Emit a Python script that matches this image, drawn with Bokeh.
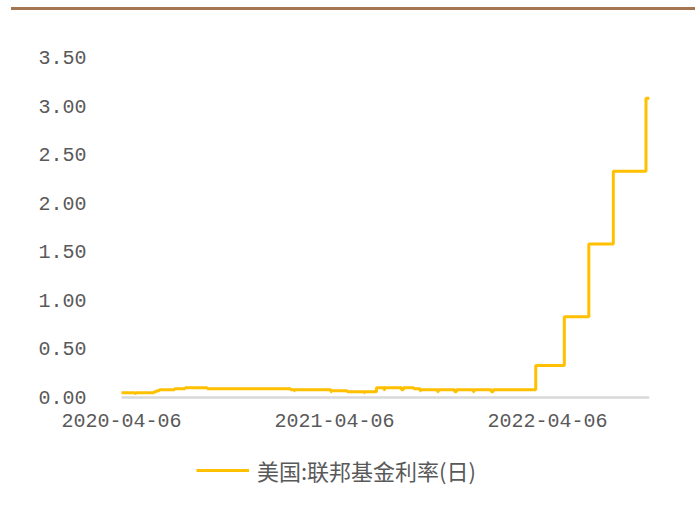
import pandas as pd
from bokeh.plotting import figure
from bokeh.models import (Range1d, FixedTicker, NumeralTickFormatter, DatetimeTickFormatter,
                          Legend, LegendItem, Div, ColumnDataSource)
from bokeh.layouts import column
from bokeh.embed import file_html
from bokeh.resources import INLINE

# ---- data (change points of the daily series) ----
rate_dates = [
    "2020-04-06", "2020-04-29", "2020-05-01", "2020-06-01", "2020-06-05", "2020-06-10",
    "2020-07-06", "2020-07-24", "2020-08-31", "2021-01-21", "2021-01-27", "2021-01-28",
    "2021-03-31", "2021-04-01", "2021-04-28", "2021-05-27", "2021-05-28", "2021-06-17",
    "2021-06-30", "2021-07-01", "2021-07-30", "2021-08-02", "2021-08-20", "2021-08-31",
    "2021-09-01", "2021-09-30", "2021-10-01", "2021-10-29", "2021-11-01", "2021-11-30",
    "2021-12-01", "2021-12-31", "2022-01-03", "2022-03-17", "2022-05-05", "2022-06-16",
    "2022-07-28", "2022-09-22", "2022-09-28",
]
rate_values = [
    0.05, 0.04, 0.05, 0.06, 0.07, 0.08,
    0.09, 0.10, 0.09, 0.08, 0.07, 0.08,
    0.06, 0.07, 0.06, 0.05, 0.06, 0.10,
    0.08, 0.10, 0.08, 0.10, 0.09, 0.07,
    0.08, 0.06, 0.08, 0.06, 0.08, 0.06,
    0.08, 0.06, 0.08, 0.33, 0.83, 1.58,
    2.33, 3.08, 3.08,
]
series_name = "美国:联邦基金利率(日)"
x_tick_labels = ["2020-04-06", "2021-04-06", "2022-04-06"]
y_ticks = [0.0, 0.5, 1.0, 1.5, 2.0, 2.5, 3.0, 3.5]

src = ColumnDataSource(dict(x=pd.to_datetime(rate_dates), y=rate_values))

FONT = "Liberation Mono"
GREY = "#595959"

# ---- layout geometry (page pixels) ----
PLOT_LEFT, PLOT_RIGHT = 121, 649      # data area on the page
PLOT_TOP, PLOT_ZERO = 57, 397         # y=3.5 and y=0 on the page
FRAME_LEFT, FRAME_TOP, FRAME_BOTTOM = 20, 20, 502   # frame is larger so axes & legend sit inside
BAR_H = 10                            # space taken by the brown top rule
px_per_unit = (PLOT_ZERO - PLOT_TOP) / 3.5
y_bottom = -(FRAME_BOTTOM - PLOT_ZERO) / px_per_unit
y_top = 3.5 + (PLOT_TOP - FRAME_TOP) / px_per_unit

t0 = pd.Timestamp(rate_dates[0]).value / 1e6
t1 = pd.Timestamp(rate_dates[-1]).value / 1e6
ms_per_px = (t1 - t0) / (PLOT_RIGHT - PLOT_LEFT)
x_start = t0 - (PLOT_LEFT - FRAME_LEFT) * ms_per_px

p = figure(frame_width=PLOT_RIGHT - FRAME_LEFT, frame_height=FRAME_BOTTOM - FRAME_TOP,
           output_backend="svg", toolbar_location=None,
           x_axis_type="datetime",
           x_range=Range1d(x_start, t1),
           y_range=Range1d(y_bottom, y_top),
           min_border_left=FRAME_LEFT, min_border_right=699 - PLOT_RIGHT,
           min_border_top=FRAME_TOP - BAR_H, min_border_bottom=5)
p.outline_line_color = None
p.xgrid.visible = False
p.ygrid.visible = False
p.background_fill_color = "white"

r = p.step("x", "y", source=src, mode="after", line_color="#FFC000", line_width=3)

# y axis, placed at the first date
p.yaxis.fixed_location = t0
p.yaxis.bounds = (0, 3.5)
p.yaxis.ticker = FixedTicker(ticks=y_ticks)
p.yaxis.formatter = NumeralTickFormatter(format="0.00")
p.yaxis.axis_line_color = None
p.yaxis.major_tick_line_color = None
p.yaxis.minor_tick_line_color = None
p.yaxis.major_label_text_font = FONT
p.yaxis.major_label_text_font_size = "20px"
p.yaxis.major_label_text_color = GREY
p.yaxis.major_label_standoff = 29

# x axis, placed at y = 0
p.xaxis.fixed_location = 0
p.xaxis.bounds = (t0, t1)
p.xaxis.ticker = FixedTicker(ticks=[pd.Timestamp(t).value / 1e6 for t in x_tick_labels])
fmt = "%Y-%m-%d"
p.xaxis.formatter = DatetimeTickFormatter(days=fmt, months=fmt, years=fmt, hours=fmt,
                                          minutes=fmt, seconds=fmt, milliseconds=fmt,
                                          microseconds=fmt, minsec=fmt, hourmin=fmt)
p.xaxis.axis_line_color = "#D9D9D9"
p.xaxis.axis_line_width = 2.5
p.xaxis.major_tick_line_color = None
p.xaxis.minor_tick_line_color = None
p.xaxis.major_label_text_font = FONT
p.xaxis.major_label_text_font_size = "20px"
p.xaxis.major_label_text_color = GREY
p.xaxis.major_label_standoff = 10

legend = Legend(items=[LegendItem(label=series_name, renderers=[r])],
                location=(196 - FRAME_LEFT, 16), orientation="horizontal",
                glyph_width=53, glyph_height=20, label_height=20, label_standoff=8,
                padding=4, spacing=0, border_line_color=None, background_fill_alpha=0,
                label_text_font="Noto Sans CJK SC", label_text_font_size="22px",
                label_text_color=GREY)
p.add_layout(legend, "center")

top_bar = Div(text="", width=684, height=3, margin=(7, 0, 0, 11),
              styles={"background-color": "#A47551"})

layout = column(top_bar, p, spacing=0)
open("out.html", "w").write(file_html(layout, INLINE))
